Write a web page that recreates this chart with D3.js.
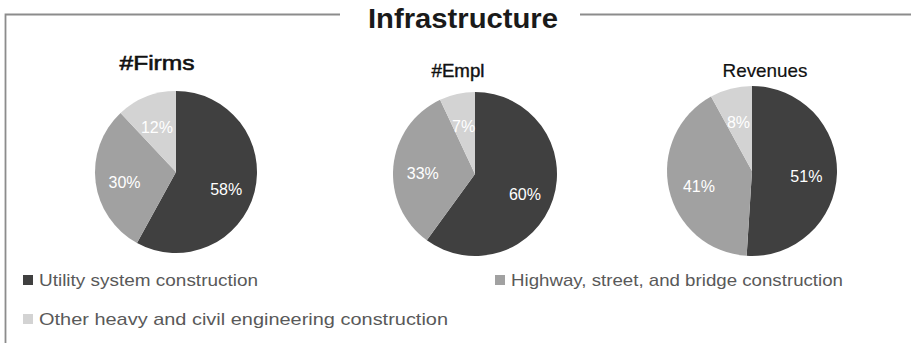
<!DOCTYPE html>
<html><head><meta charset="utf-8">
<script src="https://cdn.jsdelivr.net/npm/d3@7"></script>
<style>body{margin:0;background:#fff}</style>
</head><body>
<svg id="c" width="911" height="343"></svg>
<script>
const categories = ["Utility system construction", "Highway, street, and bridge construction", "Other heavy and civil engineering construction"];
const pieTitles = ["#Firms", "#Empl", "Revenues"];
const firmsValues = [58, 30, 12];
const emplValues = [60, 33, 7];
const revenueValues = [51, 41, 8];
const colors = ["#404040", "#a1a1a1", "#d3d3d3"];

const svg = d3.select("#c");
// frame
svg.append("path").attr("d", "M5.5,343 V14.5 H340 M580,14.5 H911").attr("fill","none").attr("stroke","#8c8c8c").attr("stroke-width",1.8);
svg.append("text").attr("x",368).attr("y",28)
  .attr("font-family","Liberation Sans, Arial, sans-serif").attr("font-size",28).attr("font-weight","bold")
  .attr("textLength",190).attr("lengthAdjust","spacingAndGlyphs")
  .attr("fill","#1a1a1a").text("Infrastructure");

const pies = [
  {values: firmsValues, cx:176, cy:172, r:81, tx:157, ty:70, fs:21, sw:0.6, tl:75},
  {values: emplValues, cx:475, cy:174, r:82, tx:458, ty:77, fs:18, sw:0.4, tl:53},
  {values: revenueValues, cx:752, cy:171, r:85, tx:765, ty:77, fs:19, sw:0.2, tl:85}
];
const pie = d3.pie().sort(null).value(d=>d);
pies.forEach((p,i)=>{
  const g = svg.append("g").attr("transform",`translate(${p.cx},${p.cy})`);
  const arc = d3.arc().innerRadius(0).outerRadius(p.r);
  const labelArc = d3.arc().innerRadius(p.r*0.64).outerRadius(p.r*0.64);
  const arcs = pie(p.values);
  g.selectAll("path").data(arcs).join("path").attr("d",arc).attr("fill",(d,j)=>colors[j]);
  g.selectAll("text").data(arcs).join("text")
    .attr("transform",d=>{const c=labelArc.centroid(d); return `translate(${c[0]},${c[1]+4})`;})
    .attr("text-anchor","middle").attr("dy","0.35em")
    .attr("font-family","Liberation Sans, Arial, sans-serif").attr("font-size",16)
    .attr("fill","#fff").text(d=>d.data+"%");
  svg.append("text").attr("x",p.tx).attr("y",p.ty).attr("text-anchor","middle")
    .attr("font-family","Liberation Sans, Arial, sans-serif").attr("font-size",p.fs)
    .attr("stroke","#111").attr("stroke-width",p.sw)
    .attr("textLength",p.tl).attr("lengthAdjust","spacingAndGlyphs")
    .attr("fill","#111").text(pieTitles[i]);
});

// legend
const legendPos = [[23,286,219],[495,286,332],[23,325,409]];
categories.forEach((c,i)=>{
  const [x,y,w] = legendPos[i];
  svg.append("rect").attr("x",x).attr("y",y-11).attr("width",10).attr("height",10).attr("fill",colors[i]);
  svg.append("text").attr("x",x+16).attr("y",y)
    .attr("font-family","Liberation Sans, Arial, sans-serif").attr("font-size",17)
    .attr("textLength",w).attr("lengthAdjust","spacingAndGlyphs")
    .attr("fill","#595959").text(c);
});
</script>
</body></html>
